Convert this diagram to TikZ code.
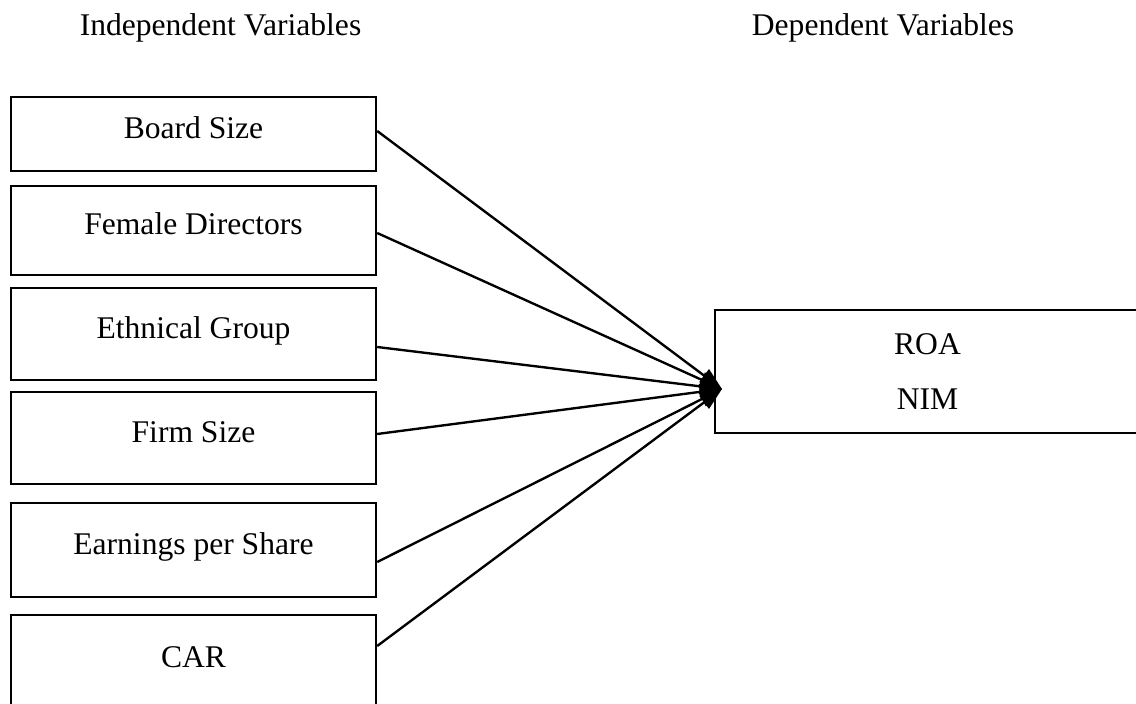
\documentclass[tikz,border=0pt]{standalone}
\usepackage{fontspec}
\setmainfont{Liberation Serif}
\usetikzlibrary{arrows.meta, positioning, calc}

\def\px{0.38pt}

\begin{document}
\begin{tikzpicture}[
    x=0.38pt, y=-0.38pt,
    var/.style={draw, line width=0.9pt, minimum width=365*\px, inner sep=0pt, font=\fontsize{12}{14}\selectfont, text height=8.5pt, text depth=5.1pt},
    dep/.style={draw, line width=0.9pt, minimum width=425*\px, minimum height=123*\px, align=center, font=\fontsize{12}{21}\selectfont},
    ttl/.style={anchor=base, font=\fontsize{12}{14}\selectfont},
    link/.style={-{Triangle[length=8.5pt, width=6pt]}, line width=0.9pt}]
  \useasboundingbox (0,0) rectangle (1136,704);
  \node[ttl] (indep) at (220.5,36) {Independent Variables};
  \node[ttl] (depv) at (883,36) {Dependent Variables};
  \node[var, minimum height=74*\px] (b1) at (193.5,134) {Board Size};
  \node[var, minimum height=89*\px] (b2) at (193.5,230.5) {Female Directors};
  \node[var, minimum height=92*\px] (b3) at (193.5,334) {Ethnical Group};
  \node[var, minimum height=92*\px] (b4) at (193.5,438) {Firm Size};
  \node[var, minimum height=94*\px] (b5) at (193.5,550) {Earnings per Share};
  \node[var, minimum height=96*\px] (b6) at (193.5,663) {CAR};
  \node[dep] (out) at (927.5,371.5) {ROA\\NIM};
  \coordinate (tip) at (722,389);
  \draw[link] ($(b1.east)+(0,-3)$) -- (tip);
  \draw[link] ($(b2.east)+(0,2.5)$) -- (tip);
  \draw[link] ($(b3.east)+(0,13)$) -- (tip);
  \draw[link] ($(b4.east)+(0,-4)$) -- (tip);
  \draw[link] ($(b5.east)+(0,12)$) -- (tip);
  \draw[link] ($(b6.east)+(0,-17)$) -- (tip);
\end{tikzpicture}
\end{document}
